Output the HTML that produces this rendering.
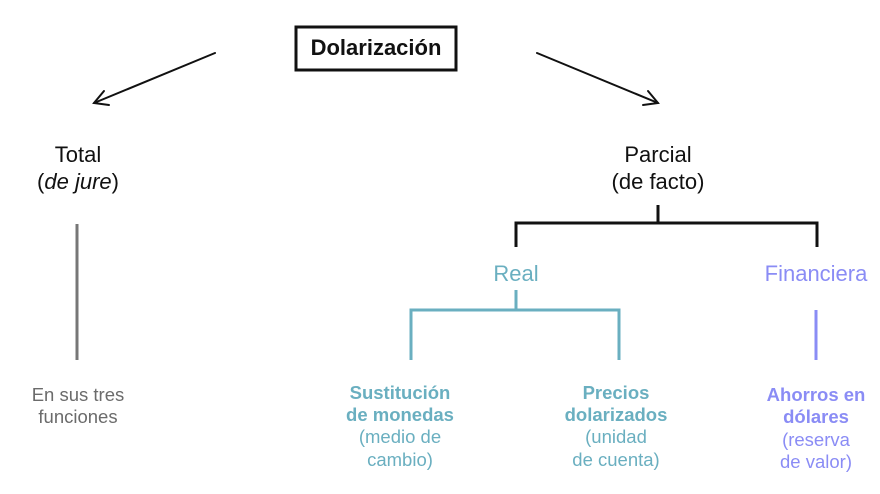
<!DOCTYPE html>
<html><head><meta charset="utf-8"><style>
html,body{margin:0;padding:0;background:#fff;}
svg{display:block;font-family:"Liberation Sans",sans-serif;}
</style></head><body>
<svg width="880" height="494" viewBox="0 0 880 494" xmlns="http://www.w3.org/2000/svg">
<rect x="296" y="27" width="160" height="43" fill="#fff" stroke="#111" stroke-width="3"/>
<text x="376" y="55" text-anchor="middle" font-size="22" font-weight="bold" fill="#111">Dolarización</text>
<g stroke="#111" stroke-width="2" fill="none" stroke-linecap="round">
<line x1="215" y1="53" x2="94" y2="103"/>
<polyline points="104,91 94,103 109,105"/>
<line x1="537" y1="53" x2="658" y2="103"/>
<polyline points="643,105 658,103 648,91"/>
</g>
<g font-size="22" fill="#111" text-anchor="middle">
<text x="78" y="162">Total</text>
<text x="78" y="189">(<tspan font-style="italic">de jure</tspan>)</text>
<text x="658" y="162">Parcial</text>
<text x="658" y="189">(de facto)</text>
</g>
<line x1="77" y1="224" x2="77" y2="360" stroke="#777" stroke-width="3"/>
<g font-size="18.5" fill="#6b6b6b" text-anchor="middle">
<text x="78" y="401">En sus tres</text>
<text x="78" y="423">funciones</text>
</g>
<g stroke="#111" stroke-width="3" fill="none">
<line x1="658" y1="205" x2="658" y2="223"/>
<polyline points="516,247 516,223 817,223 817,247"/>
</g>
<text x="516" y="281" text-anchor="middle" font-size="22" fill="#6aafc0">Real</text>
<text x="816" y="281" text-anchor="middle" font-size="22" fill="#8a8cf5">Financiera</text>
<g stroke="#6aafc0" stroke-width="3" fill="none">
<line x1="516" y1="290" x2="516" y2="310"/>
<polyline points="411,360 411,310 619,310 619,360"/>
</g>
<line x1="816" y1="310" x2="816" y2="360" stroke="#8a8cf5" stroke-width="3"/>
<g font-size="18.5" fill="#6aafc0" text-anchor="middle">
<text x="400" y="399" font-weight="bold">Sustitución</text>
<text x="400" y="421" font-weight="bold">de monedas</text>
<text x="400" y="443">(medio de</text>
<text x="400" y="466">cambio)</text>
<text x="616" y="399" font-weight="bold">Precios</text>
<text x="616" y="421" font-weight="bold">dolarizados</text>
<text x="616" y="443">(unidad</text>
<text x="616" y="466">de cuenta)</text>
</g>
<g font-size="18.5" fill="#8a8cf5" text-anchor="middle">
<text x="816" y="401" font-weight="bold">Ahorros en</text>
<text x="816" y="423" font-weight="bold">dólares</text>
<text x="816" y="446">(reserva</text>
<text x="816" y="468">de valor)</text>
</g>
</svg>
</body></html>
